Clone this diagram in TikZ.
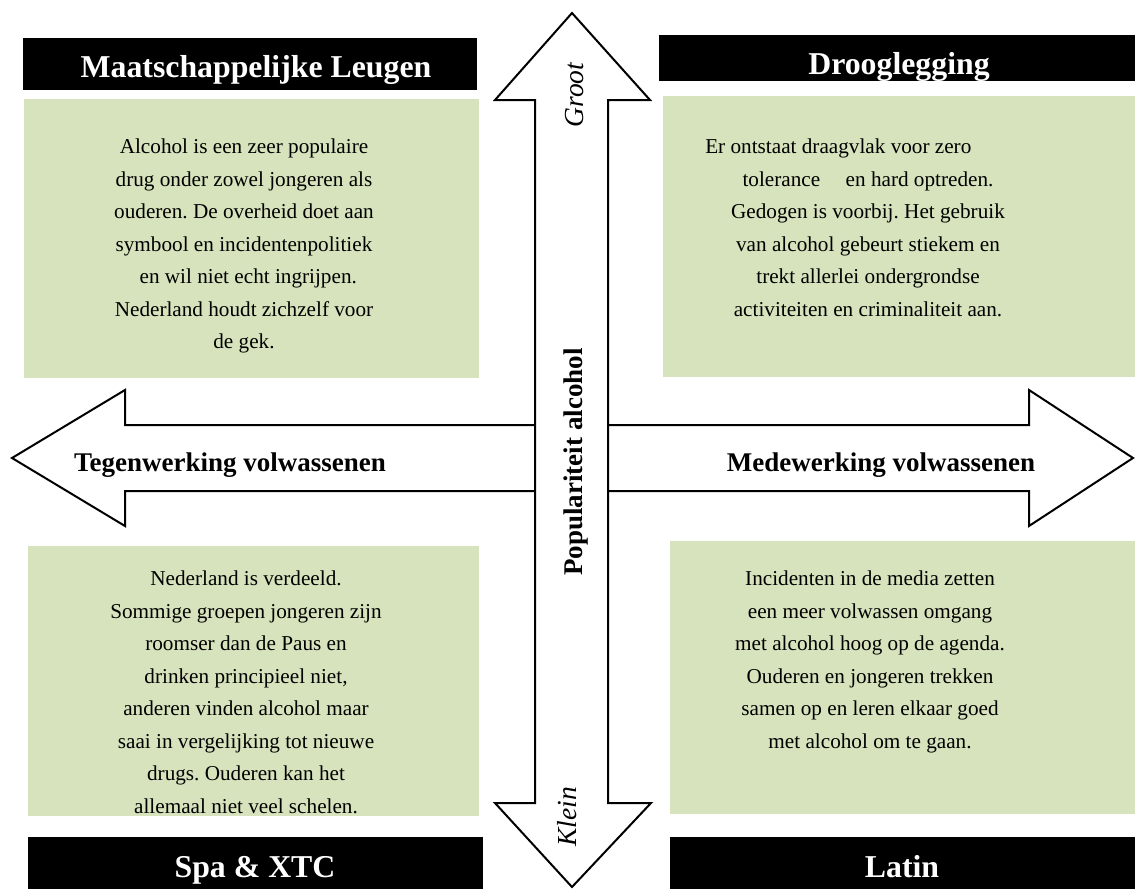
\documentclass[tikz,border=0pt]{standalone}
\usepackage{fontspec}
\setmainfont{Liberation Serif}
\frenchspacing
\definecolor{boxgreen}{HTML}{D7E3BC}
\begin{document}
\begin{tikzpicture}[x=1pt,y=-1pt,
  blackbox/.style={fill=black},
  greenbox/.style={fill=boxgreen},
  arrowshape/.style={draw=black,fill=white,line width=2pt,line join=miter},
  titletext/.style={text=white,font=\fontsize{31.8}{38}\selectfont\bfseries,anchor=base,inner sep=0pt},
  bodytext/.style={text=black,font=\fontsize{21.2}{32.5}\selectfont,align=center,anchor=north,inner sep=0pt},
  axistext/.style={font=\fontsize{27}{32}\selectfont\bfseries,anchor=base,inner sep=0pt},
  endtext/.style={font=\fontsize{27.5}{32}\selectfont\itshape,anchor=base,inner sep=0pt,rotate=90}]
\useasboundingbox (0,0) rectangle (1135,889);
% title bars
\path[blackbox] (23,38) rectangle (477,90);
\path[blackbox] (659,35) rectangle (1135,81);
\path[blackbox] (28,837) rectangle (483,889);
\path[blackbox] (670,837) rectangle (1135,889);
% green boxes
\path[greenbox] (24,99) rectangle (479,378);
\path[greenbox] (663,96) rectangle (1135,377);
\path[greenbox] (28,546) rectangle (479,816);
\path[greenbox] (670,541) rectangle (1135,814);
% titles
\node[titletext] (tl) at (256,77) {Maatschappelijke Leugen};
\node[titletext] (tr) at (899,74) {Drooglegging};
\node[titletext] (bl) at (255,877) {Spa \& XTC};
\node[titletext] (br) at (902,877) {Latin};
% body texts
\node[bodytext] (tltext) at (244,139) {Alcohol is een zeer populaire\\
drug onder zowel jongeren als\\
ouderen. De overheid doet aan\\
symbool en incidentenpolitiek\\
\hspace*{0.4em}en wil niet echt ingrijpen.\\
Nederland houdt zichzelf voor\\
de gek.};
\node[bodytext] (trtext) at (868,139) {Er ontstaat draagvlak voor zero\hspace*{2.8em}\\
tolerance\hspace*{1.2em}en hard optreden.\\
Gedogen is voorbij. Het gebruik\\
van alcohol gebeurt stiekem en\\
trekt allerlei ondergrondse\\
activiteiten en criminaliteit aan.};
\node[bodytext] (bltext) at (246,571) {Nederland is verdeeld.\\
Sommige groepen jongeren zijn\\
roomser dan de Paus en\\
drinken principieel niet,\\
anderen vinden alcohol maar\\
saai in vergelijking tot nieuwe\\
drugs. Ouderen kan het\\
allemaal niet veel schelen.};
\node[bodytext] (brtext) at (870,571) {Incidenten in de media zetten\\
een meer volwassen omgang\\
met alcohol hoog op de agenda.\\
Ouderen en jongeren trekken\\
samen op en leren elkaar goed\\
met alcohol om te gaan.};
% horizontal arrow
\path[arrowshape] (12,458) -- (125,390) -- (125,425) -- (1029,425) -- (1029,390) -- (1133,458)
  -- (1029,526) -- (1029,491) -- (125,491) -- (125,526) -- cycle;
% vertical arrow
\path[arrowshape] (572,13) -- (650,100) -- (608,100) -- (608,803) -- (651,803) -- (572,887)
  -- (495,803) -- (535,803) -- (535,100) -- (495,100) -- cycle;
% labels
\node[axistext] (left) at (230,471) {Tegenwerking volwassenen};
\node[axistext] (right) at (881,471) {Medewerking volwassenen};
\node[axistext,rotate=90] (vert) at (582,462) {Populariteit alcohol};
\node[endtext] (groot) at (583,95) {Groot};
\node[endtext] (klein) at (576,817) {Klein};
\end{tikzpicture}
\end{document}
